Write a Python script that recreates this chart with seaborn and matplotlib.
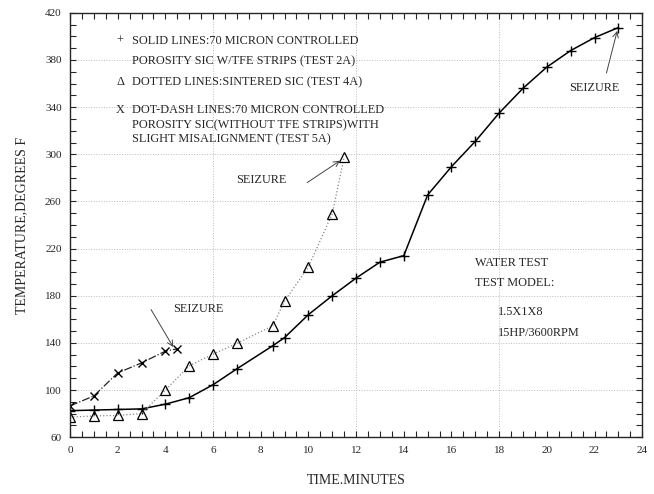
import pandas as pd
import seaborn as sns
import matplotlib.pyplot as plt
from matplotlib.ticker import MultipleLocator

sns.set_style("ticks")
plt.rcParams['font.family'] = ['Liberation Serif', 'DejaVu Serif']

# solid lines, test 2A
t_2a = [0, 1, 2, 3, 4, 5, 6, 7, 8.5, 9, 10, 11, 12, 13, 14, 15, 16, 17, 18, 19, 20, 21, 22, 23]
temp_2a = [82.5, 83, 83.5, 84, 88, 93.5, 104.5, 118, 137.5, 144.5, 164, 180, 195, 208.5, 214,
           265.5, 289.5, 311, 335, 356, 374, 388, 399, 407.5]
# dotted lines, test 4A
t_4a = [0, 1, 2, 3, 4, 5, 6, 7, 8.5, 9, 10, 11, 11.5]
temp_4a = [77, 78, 78.5, 80, 100, 120.5, 130.5, 139.5, 154.5, 175.5, 204.5, 249.5, 298]
# dot-dash lines, test 5A
t_5a = [0, 1, 2, 3, 4, 4.5]
temp_5a = [86.5, 95, 114.5, 123, 133, 135]

df_2a = pd.DataFrame({"t": t_2a, "temp": temp_2a})
df_4a = pd.DataFrame({"t": t_4a, "temp": temp_4a})
df_5a = pd.DataFrame({"t": t_5a, "temp": temp_5a})

fig, ax = plt.subplots(figsize=(6.54, 4.94), dpi=100)
fig.subplots_adjust(left=0.107, right=0.982, top=0.974, bottom=0.115)

sns.lineplot(x="t", y="temp", data=df_2a, ax=ax, color="black", lw=1.1, marker="+",
             markersize=6.5, markeredgewidth=1.0, markeredgecolor="black")
sns.lineplot(x="t", y="temp", data=df_4a, ax=ax, color="#888888", lw=0.9, linestyle=":",
             marker="^", markersize=7, markerfacecolor="none", markeredgecolor="black",
             markeredgewidth=0.9)
sns.lineplot(x="t", y="temp", data=df_5a, ax=ax, color="#222222", lw=0.9, linestyle="-.",
             marker="x", markersize=6, markeredgewidth=1.0, markeredgecolor="black")

ax.grid(False)
ax.set_xlim(0, 24)
ax.set_ylim(60, 420)
ax.set_xticks(range(0, 25, 2))
ax.set_yticks(range(60, 421, 40))
ax.xaxis.set_minor_locator(MultipleLocator(0.5))
ax.yaxis.set_minor_locator(MultipleLocator(10))
ax.tick_params(which="both", direction="in", top=True, right=True, length=4,
               width=0.8, labelsize=8, pad=6)
for s in ax.spines.values():
    s.set_linewidth(1.0)

for gx in [6, 12, 18]:
    ax.axvline(gx, color="#bbbbbb", lw=0.7, ls=":", zorder=0)
for gy in range(100, 420, 40):
    ax.axhline(gy, color="#bbbbbb", lw=0.7, ls=":", zorder=0)

ax.set_xlabel("TIME.MINUTES", fontsize=10, labelpad=14)
ax.set_ylabel("TEMPERATURE,DEGREES F", fontsize=10, labelpad=12)

fs = 8.8
sx, tx = 2.1, 2.6
ax.text(sx, 396, "+", fontsize=fs, va="center", ha="center")
ax.text(tx, 396, "SOLID LINES:70 MICRON CONTROLLED", fontsize=fs, va="center")
ax.text(tx, 379, "POROSITY SIC W/TFE STRIPS (TEST 2A)", fontsize=fs, va="center")
ax.text(sx, 361.5, "\u0394", fontsize=fs, va="center", ha="center")
ax.text(tx, 361.5, "DOTTED LINES:SINTERED SIC (TEST 4A)", fontsize=fs, va="center")
ax.text(sx, 338, "X", fontsize=fs, va="center", ha="center")
ax.text(tx, 338, "DOT-DASH LINES:70 MICRON CONTROLLED", fontsize=fs, va="center")
ax.text(tx, 325, "POROSITY SIC(WITHOUT TFE STRIPS)WITH", fontsize=fs, va="center")
ax.text(tx, 312.5, "SLIGHT MISALIGNMENT (TEST 5A)", fontsize=fs, va="center")

ax.text(17.0, 207.5, "WATER TEST", fontsize=fs, va="center")
ax.text(17.0, 190.5, "TEST MODEL:", fontsize=fs, va="center")
ax.text(17.95, 166, "1.5X1X8", fontsize=fs, va="center")
ax.text(17.95, 148, "15HP/3600RPM", fontsize=fs, va="center")

arrow = dict(arrowstyle="->", color="#444444", lw=0.7, shrinkA=0, shrinkB=0)
ax.text(9.1, 278.5, "SEIZURE", fontsize=fs, ha="right", va="center")
ax.annotate("", xy=(11.33, 294.6), xytext=(9.95, 276), arrowprops=arrow)
ax.text(4.32, 168.4, "SEIZURE", fontsize=fs, ha="left", va="center")
ax.annotate("", xy=(4.33, 136.5), xytext=(3.4, 168.3), arrowprops=arrow)
ax.text(22.0, 356.5, "SEIZURE", fontsize=fs, ha="center", va="center")
ax.annotate("", xy=(22.95, 404.7), xytext=(22.5, 369), arrowprops=arrow)

fig.savefig("out.png", dpi=100)
